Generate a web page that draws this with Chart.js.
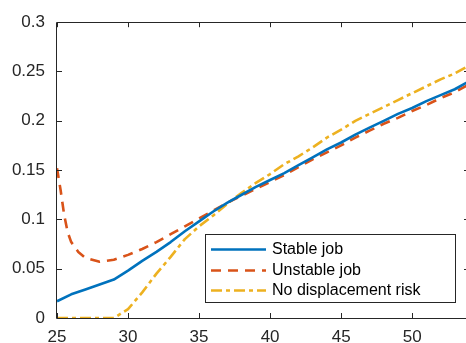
<!DOCTYPE html>
<html>
<head>
<meta charset="utf-8">
<script src="https://cdn.jsdelivr.net/npm/chart.js@4/dist/chart.umd.min.js"></script>
<style>
    html, body { margin: 0; padding: 0; background: #fff; overflow: hidden; }
    #chart { display: block; }
</style>
</head>
<body>
<canvas id="chart" width="470" height="343"></canvas>
<script>
// values
const ages = [25, 26, 27, 28, 29, 30, 31, 32, 33, 34, 35, 36, 37, 38, 39,
    40, 41, 42, 43, 44, 45, 46, 47, 48, 49, 50, 51, 52, 53, 54];

const stableJob = [0.017, 0.024, 0.029, 0.034, 0.039, 0.048, 0.058, 0.067, 0.077, 0.088,
    0.098, 0.108, 0.117, 0.125, 0.133, 0.140, 0.147, 0.155, 0.163, 0.171,
    0.178, 0.186, 0.193, 0.200, 0.207, 0.213, 0.220, 0.226, 0.232, 0.240];

const unstableAges = [25, 25.25, 25.5, 25.75, 26, 26.5, 27, 28, 29, 30, 31, 32, 33, 34, 35,
    36, 37, 38, 39, 40, 41, 42, 43, 44, 45, 46, 47, 48, 49, 50, 51, 52, 53, 54];
const unstableJob = [0.152, 0.130, 0.105, 0.087, 0.077, 0.067, 0.061, 0.057, 0.059, 0.064,
    0.070, 0.077, 0.085, 0.093, 0.101, 0.109, 0.117, 0.124, 0.131, 0.138,
    0.145, 0.153, 0.161, 0.168, 0.175, 0.183, 0.190, 0.197, 0.203, 0.210,
    0.216, 0.223, 0.229, 0.237];

const noDisplacement = [0, 0, 0, 0, 0, 0.009, 0.026, 0.045, 0.062, 0.080,
    0.093, 0.104, 0.116, 0.127, 0.137, 0.146, 0.156, 0.164, 0.173, 0.183,
    0.191, 0.200, 0.207, 0.214, 0.221, 0.228, 0.235, 0.242, 0.248, 0.256];

const seriesLabels = ['Stable job', 'Unstable job', 'No displacement risk'];

const xTicks = [25, 30, 35, 40, 45, 50];
const xTickLabels = ['25', '30', '35', '40', '45', '50'];
const yTicks = [0, 0.05, 0.1, 0.15, 0.2, 0.25, 0.3];
const yTickLabels = ['0', '0.05', '0.1', '0.15', '0.2', '0.25', '0.3'];

const AXIS_COLOR = '#262626';
const FONT = '"Liberation Sans", Arial, sans-serif';

const toPoints = (xs, ys) => xs.map((x, i) => ({ x, y: ys[i] }));

// matlab style box with inward ticks
const boxPlugin = {
    id: 'box',
    afterDatasetsDraw(chart) {
        const { ctx, chartArea: a, scales } = chart;
        const tick = 5;
        ctx.save();
        ctx.strokeStyle = AXIS_COLOR;
        ctx.lineWidth = 1;
        ctx.beginPath();
        ctx.rect(Math.round(a.left) - 0.5, Math.round(a.top) + 0.5,
            Math.round(a.right - a.left), Math.round(a.bottom - a.top));
        scales.x.ticks.forEach(t => {
            const px = Math.round(scales.x.getPixelForValue(t.value)) + 0.5;
            ctx.moveTo(px, a.bottom);
            ctx.lineTo(px, a.bottom - tick);
            ctx.moveTo(px, a.top);
            ctx.lineTo(px, a.top + tick);
        });
        scales.y.ticks.forEach(t => {
            const py = Math.round(scales.y.getPixelForValue(t.value)) + 0.5;
            ctx.moveTo(a.left, py);
            ctx.lineTo(a.left + tick, py);
            ctx.moveTo(a.right, py);
            ctx.lineTo(a.right - tick, py);
        });
        ctx.stroke();
        ctx.restore();
    }
};

const legendPlugin = {
    id: 'boxLegend',
    afterDraw(chart) {
        const { ctx } = chart;
        const box = { left: 205, top: 234, right: 455, bottom: 302 };
        const rows = [249, 270, 290];
        ctx.save();
        ctx.fillStyle = '#fff';
        ctx.fillRect(box.left, box.top, box.right - box.left, box.bottom - box.top);
        ctx.strokeStyle = AXIS_COLOR;
        ctx.lineWidth = 1;
        ctx.strokeRect(box.left + 0.5, box.top + 0.5, box.right - box.left, box.bottom - box.top);

        chart.data.datasets.forEach((ds, i) => {
            const y = rows[i] + 0.5;
            ctx.strokeStyle = ds.borderColor;
            ctx.lineWidth = ds.borderWidth;
            ctx.setLineDash(ds.borderDash || []);
            ctx.beginPath();
            ctx.moveTo(211, y);
            ctx.lineTo(266, y);
            ctx.stroke();

            ctx.setLineDash([]);
            ctx.fillStyle = '#000';
            ctx.font = `16px ${FONT}`;
            ctx.textBaseline = 'middle';
            ctx.fillText(ds.label, 272, rows[i] + 1);
        });
        ctx.restore();
    }
};

const chart = new Chart(document.getElementById('chart'), {
    type: 'line',
    data: {
        datasets: [
            {
                label: seriesLabels[0],
                data: toPoints(ages, stableJob),
                borderColor: '#0072BD',
                borderWidth: 2.6
            },
            {
                label: seriesLabels[1],
                data: toPoints(unstableAges, unstableJob),
                borderColor: '#D95319',
                borderWidth: 2.6,
                borderDash: [10, 7]
            },
            {
                label: seriesLabels[2],
                data: toPoints(ages, noDisplacement),
                borderColor: '#EDB120',
                borderWidth: 2.6,
                borderDash: [11, 4, 4, 4]
            }
        ]
    },
    options: {
        responsive: false,
        devicePixelRatio: 1,
        animation: false,
        layout: { padding: { top: 15, right: 1, left: 0, bottom: 0 } },
        elements: {
            point: { radius: 0 },
            line: { tension: 0, fill: false, borderJoinStyle: 'round' }
        },
        plugins: {
            legend: { display: false },
            tooltip: { enabled: false }
        },
        scales: {
            x: {
                type: 'linear',
                min: 25,
                max: 54,
                afterBuildTicks: s => { s.ticks = xTicks.map(v => ({ value: v })); },
                afterFit: s => { s.height = 25; },
                grid: { display: false, drawTicks: false },
                border: { display: false },
                ticks: {
                    padding: 9,
                    color: AXIS_COLOR,
                    font: { family: FONT, size: 17 },
                    maxRotation: 0,
                    callback: (v, i) => xTickLabels[i]
                }
            },
            y: {
                type: 'linear',
                min: 0,
                max: 0.3,
                afterBuildTicks: s => { s.ticks = yTicks.map(v => ({ value: v })); },
                afterFit: s => { s.width = 57; },
                grid: { display: false, drawTicks: false },
                border: { display: false },
                ticks: {
                    padding: 12,
                    color: AXIS_COLOR,
                    font: { family: FONT, size: 17 },
                    callback: (v, i) => yTickLabels[i]
                }
            }
        }
    },
    plugins: [boxPlugin, legendPlugin]
});
</script>
</body>
</html>
